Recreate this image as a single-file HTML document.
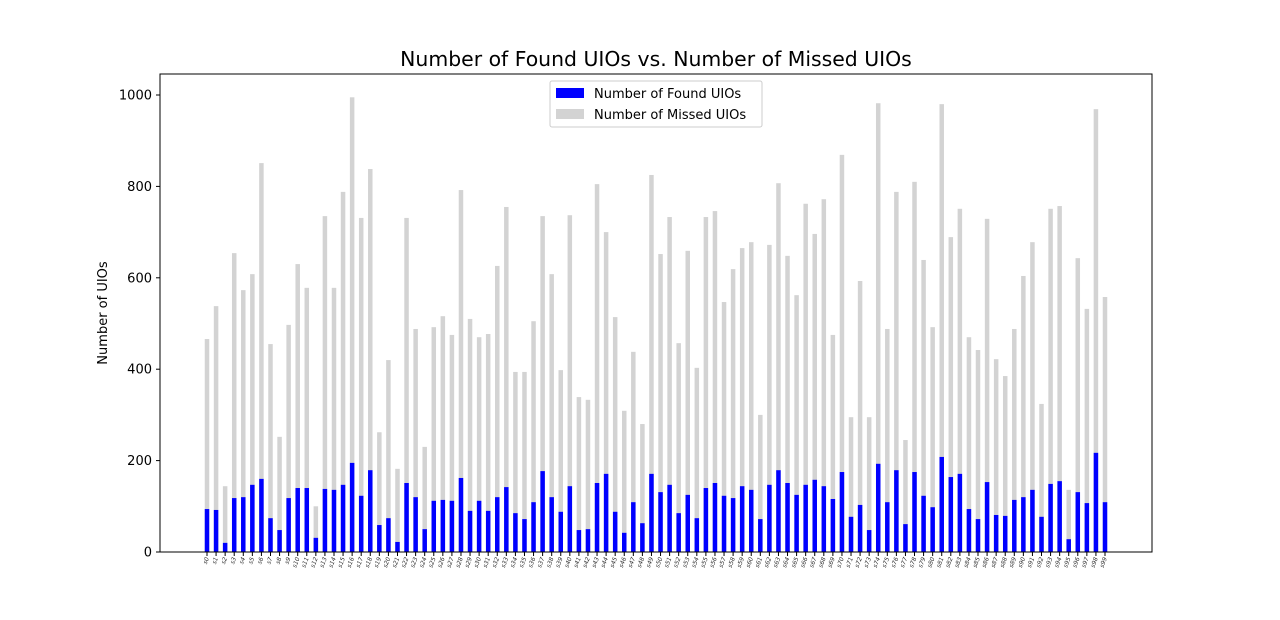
<!DOCTYPE html>
<html><head><meta charset="utf-8"><style>
html,body{margin:0;padding:0;background:#fff;}
svg{display:block;font-family:"DejaVu Sans","Liberation Sans",sans-serif;}
</style></head><body>
<svg id="chart" width="1280" height="620">
<text x="656" y="66" text-anchor="middle" font-size="20.4">Number of Found UIOs vs. Number of Missed UIOs</text>
<text transform="translate(107,313) rotate(-90)" text-anchor="middle" font-size="13">Number of UIOs</text>
<g id="grayBars"></g><g id="blueBars"></g><g id="axes"></g>
<g>
<rect x="550" y="81" width="212" height="46" fill="#fff" fill-opacity="0.8" stroke="#ccc" rx="2"/>
<rect x="556" y="88" width="28" height="10" fill="#0000ff"/>
<text x="594" y="98" font-size="13">Number of Found UIOs</text>
<rect x="556" y="109" width="28" height="10" fill="#d3d3d3"/>
<text x="594" y="119" font-size="13">Number of Missed UIOs</text>
</g>
</svg>
<script>
const totals=[466,538,144,654,573,608,851,455,252,497,630,578,100,735,578,788,995,731,838,262,420,182,731,488,230,492,516,475,792,510,470,477,626,755,394,394,505,735,608,398,737,339,333,805,700,514,309,438,280,825,652,733,457,659,403,733,746,547,619,665,678,300,672,807,648,562,762,696,772,475,869,295,593,295,982,488,788,245,810,639,492,980,689,751,470,442,729,422,385,488,604,678,324,751,757,136,643,532,969,558];
const found=[94,92,20,118,120,147,160,74,48,118,140,140,31,138,136,147,195,123,179,59,74,22,151,120,50,112,114,112,162,90,112,90,120,142,85,72,109,177,120,88,144,48,50,151,171,88,42,109,63,171,131,147,85,125,74,140,151,123,118,144,136,72,147,179,151,125,147,158,144,116,175,77,103,48,193,109,179,61,175,123,98,208,164,171,94,72,153,81,79,114,120,136,77,149,155,28,131,107,217,109];
const yTicks=[0,200,400,600,800,1000];
const NS="http://www.w3.org/2000/svg";
const L=160,R=1152,T=74,B=552;
const y=v=>B-v*0.457;
const x=i=>207+i*(1105-207)/99;
const bw=4.5;
function mk(tag,attrs,parent){const e=document.createElementNS(NS,tag);for(const k in attrs)e.setAttribute(k,attrs[k]);parent.appendChild(e);return e;}
const gG=document.getElementById('grayBars'),gB=document.getElementById('blueBars'),ax=document.getElementById('axes');
totals.forEach((v,i)=>{
  const r=mk('rect',{x:x(i)-bw/2,y:y(v),width:bw,height:B-y(v),fill:'#d3d3d3'},gG);
  
  
});
found.forEach((v,i)=>{
  const r=mk('rect',{x:x(i)-bw/2,y:y(v),width:bw,height:B-y(v),fill:'#0000ff'},gB);
  
  
});
const frame=mk('rect',{x:L,y:T,width:R-L,height:B-T,fill:'none',stroke:'#000','stroke-width':1},ax);


yTicks.forEach(v=>{
  mk('line',{x1:L-4,x2:L,y1:y(v),y2:y(v),stroke:'#000'},ax);
  const t=mk('text',{x:L-8,y:y(v)+4.5,'text-anchor':'end','font-size':13},ax);
  t.textContent=v;
  
  
});
totals.forEach((v,i)=>{
  mk('line',{x1:x(i),x2:x(i),y1:B,y2:B+4,stroke:'#000'},ax);
  const t=mk('text',{transform:`translate(${x(i)+2},${558}) rotate(-70)`,'text-anchor':'end','font-size':6,'font-style':'italic',fill:'#333'},ax);
  t.textContent='s'+i;
  
  
});
</script>
</body></html>
